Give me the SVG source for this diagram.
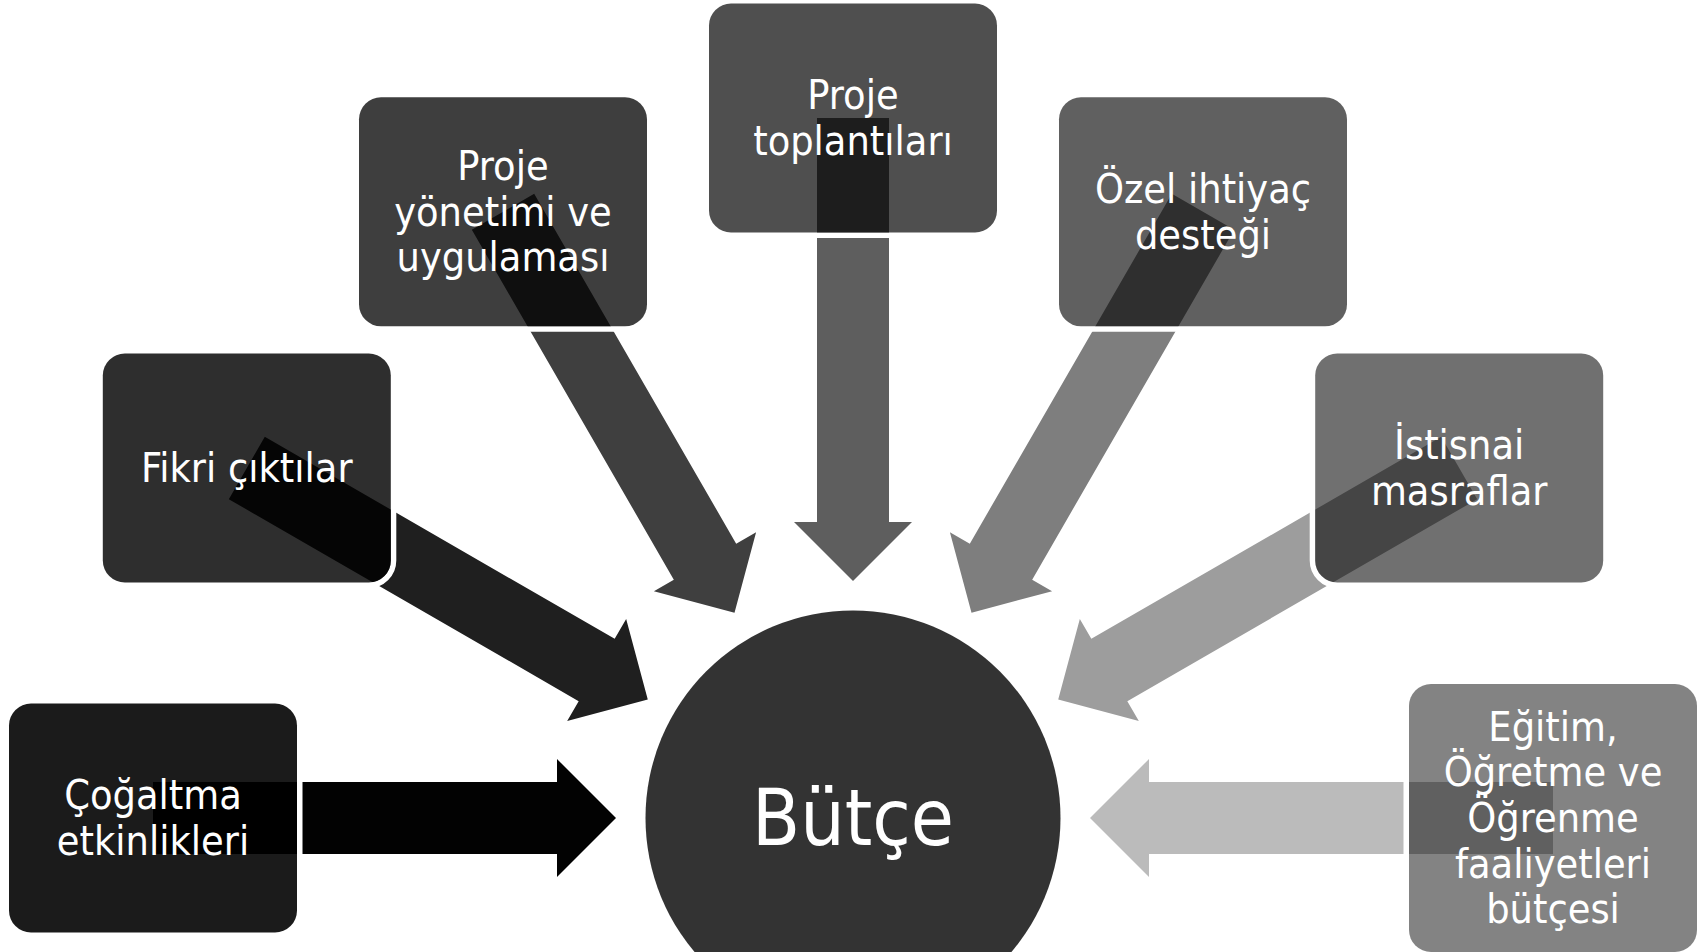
<svg xmlns="http://www.w3.org/2000/svg" xmlns:xlink="http://www.w3.org/1999/xlink" width="1703" height="952" viewBox="0 0 1703 952">
  <style>
    .lbl { font-family: 'DejaVu Sans Condensed', 'DejaVu Sans', sans-serif; font-stretch: condensed; font-size: 41px; fill: #ffffff; text-anchor: middle; }
    .big { font-size: 78px; }
    .ring { fill: none; stroke: #ffffff; stroke-width: 5.5; }
    .box { fill: #000000; }
  </style>
  <defs>
    <path id="arrow" d="M0,-36 H404 V-59 L463,0 L404,59 V36 H0 Z"/>
  </defs>
  <rect x="0" y="0" width="1703" height="952" fill="#ffffff"/>

  <g id="connectors">
    <use xlink:href="#arrow" href="#arrow" fill="#020202" transform="translate(153,818) rotate(0)"/>
    <use xlink:href="#arrow" href="#arrow" fill="#1f1f1f" transform="translate(246.8,468) rotate(30)"/>
    <use xlink:href="#arrow" href="#arrow" fill="#3f3f3f" transform="translate(503,211.8) rotate(60)"/>
    <use xlink:href="#arrow" href="#arrow" fill="#5e5e5e" transform="translate(853,118) rotate(90)"/>
    <use xlink:href="#arrow" href="#arrow" fill="#7e7e7e" transform="translate(1203,211.8) rotate(120)"/>
    <use xlink:href="#arrow" href="#arrow" fill="#9d9d9d" transform="translate(1459.2,468) rotate(150)"/>
    <use xlink:href="#arrow" href="#arrow" fill="#bbbbbb" transform="translate(1553,818) rotate(180)"/>
  </g>

  <g id="node-butce">
    <circle cx="853" cy="818" r="207.5" fill="#333333"/>
    <text class="lbl big" x="853" y="845">Bütçe</text>
  </g>

  <g id="node-cogaltma">
    <rect class="ring" x="6.25" y="700.75" width="293.5" height="234.5" rx="24.75"/>
    <rect class="box" fill-opacity="0.894" x="9" y="703.5" width="288" height="229" rx="22"/>
    <text class="lbl" x="153" y="809">Çoğaltma</text>
    <text class="lbl" x="153" y="855">etkinlikleri</text>
  </g>

  <g id="node-fikri">
    <rect class="ring" x="100.05" y="350.75" width="293.5" height="234.5" rx="24.75"/>
    <rect class="box" fill-opacity="0.82" x="102.8" y="353.5" width="288" height="229" rx="22"/>
    <text class="lbl" x="246.8" y="482">Fikri çıktılar</text>
  </g>

  <g id="node-proje-yonetimi">
    <rect class="ring" x="356.25" y="94.55" width="293.5" height="234.5" rx="24.75"/>
    <rect class="box" fill-opacity="0.757" x="359" y="97.3" width="288" height="229" rx="22"/>
    <text class="lbl" x="503" y="180.2">Proje</text>
    <text class="lbl" x="503" y="225.8">yönetimi ve</text>
    <text class="lbl" x="503" y="271.4">uygulaması</text>
  </g>

  <g id="node-proje-toplantilari">
    <rect class="ring" x="706.25" y="0.75" width="293.5" height="234.5" rx="24.75"/>
    <rect class="box" fill-opacity="0.69" x="709" y="3.5" width="288" height="229" rx="22"/>
    <text class="lbl" x="853" y="109.2">Proje</text>
    <text class="lbl" x="853" y="154.8">toplantıları</text>
  </g>

  <g id="node-ozel">
    <rect class="ring" x="1056.25" y="94.55" width="293.5" height="234.5" rx="24.75"/>
    <rect class="box" fill-opacity="0.624" x="1059" y="97.3" width="288" height="229" rx="22"/>
    <text class="lbl" x="1203" y="203">Özel ihtiyaç</text>
    <text class="lbl" x="1203" y="248.6">desteği</text>
  </g>

  <g id="node-istisnai">
    <rect class="ring" x="1312.45" y="350.75" width="293.5" height="234.5" rx="24.75"/>
    <rect class="box" fill-opacity="0.561" x="1315.2" y="353.5" width="288" height="229" rx="22"/>
    <text class="lbl" x="1459.2" y="459.2">İstisnai</text>
    <text class="lbl" x="1459.2" y="504.8">masraflar</text>
  </g>

  <g id="node-egitim">
    <rect class="ring" x="1406.25" y="681.25" width="293.5" height="273.5" rx="24.75"/>
    <rect class="box" fill-opacity="0.486" x="1409" y="684" width="288" height="268" rx="22"/>
    <text class="lbl" x="1553" y="740.8">Eğitim,</text>
    <text class="lbl" x="1553" y="786.4">Öğretme ve</text>
    <text class="lbl" x="1553" y="832">Öğrenme</text>
    <text class="lbl" x="1553" y="877.6">faaliyetleri</text>
    <text class="lbl" x="1553" y="923.2">bütçesi</text>
  </g>
</svg>
